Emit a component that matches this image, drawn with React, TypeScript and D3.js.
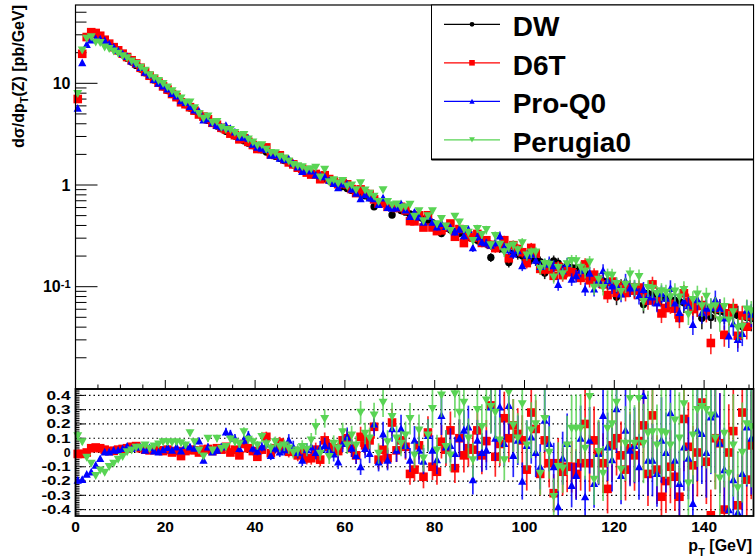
import React from 'react';
import * as d3 from 'd3';

// ---------- DATA ----------
const seriesNames = ['DW', 'D6T', 'Pro-Q0', 'Perugia0'];
const seriesColors = ['#000000', '#ff0000', '#0000ff', '#59d454'];

// DW spectrum, 1 GeV bins from 0 to 151 GeV  (pb/GeV)
const dwValues = [
  7.08, 19.7, 28.5, 30.9, 30.2, 28.5, 26.3, 24.3, 22.4, 20.7,
  19.1, 17.6, 16.2, 15.0, 13.8, 12.7, 11.7, 10.8, 10.0, 9.23,
  8.51, 7.85, 7.24, 6.68, 6.17, 5.71, 5.31, 4.94, 4.61, 4.32,
  4.05, 3.80, 3.58, 3.38, 3.20, 3.03, 2.87, 2.72, 2.58, 2.45,
  2.33, 2.22, 2.11, 2.01, 1.92, 1.83, 1.74, 1.66, 1.58, 1.51,
  1.44, 1.38, 1.32, 1.26, 1.20, 1.15, 1.10, 1.05, 1.01, 0.964,
  0.923, 0.885, 0.849, 0.815, 0.782, 0.750, 0.612, 0.690, 0.662, 0.635,
  0.507, 0.586, 0.562, 0.541, 0.519, 0.499, 0.479, 0.460, 0.442, 0.425,
  0.407, 0.333, 0.377, 0.362, 0.348, 0.335, 0.274, 0.310, 0.298, 0.286,
  0.275, 0.265, 0.194, 0.247, 0.239, 0.231, 0.173, 0.215, 0.208, 0.201,
  0.194, 0.188, 0.182, 0.176, 0.136, 0.165, 0.179, 0.170, 0.150, 0.159,
  0.154, 0.153, 0.132, 0.138, 0.125, 0.121, 0.117, 0.114, 0.111, 0.107,
  0.0791, 0.101, 0.0986, 0.0959, 0.0933, 0.0908, 0.0670, 0.0859, 0.0836, 0.0813,
  0.0791, 0.0771, 0.0752, 0.0733, 0.0714, 0.0697, 0.0679, 0.0662, 0.0646, 0.0489,
  0.0614, 0.0499, 0.0586, 0.0573, 0.0560, 0.0547, 0.0535, 0.0522, 0.0406, 0.0499,
  0.0488,
];

// (X - DW) / DW, as shown in the lower panel
const ratioD6T = [
  -0.01, -0.01, 0.0, 0.03, 0.035, 0.03, 0.02, 0.01, 0.012, 0.02,
  0.025, 0.03, 0.04, 0.045, 0.03, 0.02, 0.015, 0.02, 0.015, 0.01,
  0.02, 0.0, 0.01, -0.025, 0.01, 0.02, 0.015, 0.0, 0.02, 0.025,
  0.01, 0.03, 0.02, 0.04, 0.0, 0.02, -0.02, 0.06, 0.03, 0.01,
  -0.03, 0.02, 0.11, -0.005, 0.03, 0.07, 0.03, 0.005, 0.01, -0.02,
  0.0, -0.04, -0.04, 0.02, -0.05, 0.085, 0.04, 0.03, 0.01, 0.085,
  0.1, 0.03, -0.02, 0.11, 0.05, 0.085, 0.18, -0.05, 0.02, -0.04,
  0.21, 0.015, 0.085, 0.04, -0.15, -0.12, 0.05, -0.17, 0.14, -0.1,
  -0.135, 0.075, 0.02, 0.155, -0.11, 0.1, -0.02, 0.03, 0.02, 0.155,
  -0.02, 0.08, 0.33, -0.03, 0.06, 0.24, 0.1, 0.19, 0.13, 0.085,
  -0.12, 0.28, 0.165, -0.15, 0.085, -0.075, -0.285, -0.075, -0.135, -0.1,
  -0.1, -0.15, -0.075, 0.2, -0.075, 0.085, 0.0, -0.075, -0.255, 0.05,
  0.1, -0.02, -0.12, 0.03, -0.02, 0.08, 0.19, -0.15, 0.26, -0.12,
  -0.31, -0.2, -0.1, -0.17, -0.31, 0.235, 0.04, -0.09, 0.0, 0.35,
  -0.065, -0.44, 0.1, 0.065, -0.4, 0.0, 0.15, -0.37, 0.28, -0.19,
  0.05,
];

const ratioProQ0 = [
  -0.194, -0.189, -0.152, -0.136, -0.089, -0.042, 0.004, 0.004, 0.016, 0.016,
  0.028, 0.044, 0.028, 0.04, 0.04, 0.016, 0.035, 0.011, 0.004, 0.02,
  0.035, 0.016, 0.04, 0.012, 0.05, 0.04, 0.03, 0.081, -0.054, 0.04,
  0.005, 0.016, 0.04, 0.144, 0.13, 0.1, 0.028, 0.086, 0.12, 0.03,
  0.01, 0.04, 0.06, -0.02, 0.03, 0.005, 0.02, 0.086, 0.04, 0.0,
  -0.053, 0.02, 0.04, 0.0, 0.03, 0.05, 0.016, -0.01, -0.065, 0.063,
  0.11, 0.03, -0.02, -0.1, 0.028, -0.007, 0.2, -0.065, 0.13, -0.053,
  0.167, 0.016, 0.167, 0.05, -0.053, 0.086, 0.016, -0.06, 0.12, 0.016,
  -0.05, 0.26, 0.04, 0.05, -0.007, 0.1, 0.156, 0.18, -0.19, 0.086,
  0.0, 0.016, 0.32, 0.1, 0.32, 0.063, 0.33, -0.02, 0.086, -0.2,
  0.05, 0.11, 0.0, -0.1, 0.226, 0.063, -0.1, -0.38, -0.04, 0.063,
  -0.23, -0.16, 0.1, -0.31, 0.086, -0.216, -0.007, 0.26, 0.04, -0.05,
  0.307, -0.16, 0.156, 0.016, 0.05, -0.1, 0.4, -0.053, -0.053, -0.147,
  0.086, 0.0, 0.28, -0.053, -0.216, 0.04, -0.04, -0.356, 0.156, 0.133,
  0.0, 0.25, 0.27, 0.065, -0.12, -0.4, -0.19, -0.42, -0.147, 0.18,
  0.1,
];

const ratioPerugia0 = [
  0.116, 0.074, -0.035, -0.077, -0.163, -0.124, -0.14, -0.1, -0.077, -0.05,
  -0.03, 0.004, 0.016, 0.035, 0.035, 0.05, 0.028, 0.044, 0.058, 0.074,
  0.074, 0.07, 0.074, 0.067, 0.05, 0.137, 0.074, 0.016, -0.026, 0.098,
  0.016, 0.098, 0.028, 0.04, 0.093, 0.074, 0.06, 0.144, 0.09, 0.074,
  0.05, 0.11, 0.06, 0.03, 0.074, 0.04, 0.05, 0.03, 0.0, 0.016,
  0.04, 0.02, 0.086, 0.18, -0.007, 0.237, -0.03, 0.063, 0.03, 0.144,
  0.05, 0.12, 0.05, 0.28, 0.133, 0.1, 0.26, -0.007, 0.35, 0.074,
  0.25, 0.1, 0.063, 0.12, 0.237, -0.02, 0.156, -0.04, 0.12, 0.307,
  0.016, 0.4, 0.04, -0.02, 0.41, 0.28, 0.35, 0.1, -0.053, 0.3,
  0.18, 0.365, 0.32, 0.28, 0.086, -0.053, 0.42, 0.19, 0.1, 0.34,
  0.05, 0.156, 0.2, -0.147, 0.237, 0.0, -0.31, -0.1, -0.11, 0.05,
  0.167, 0.167, 0.167, 0.028, 0.39, -0.19, 0.005, -0.147, 0.167, 0.2,
  0.35, -0.12, 0.063, 0.377, 0.063, 0.377, 0.063, 0.133, 0.144, 0.05,
  0.144, 0.133, 0.05, 0.226, 0.1, 0.34, -0.216, 0.12, 0.3, 0.32,
  0.3, 0.26, 0.1, -0.18, 0.133, -0.147, 0.05, -0.25, 0.0, 0.2,
  0.18,
];

// relative statistical uncertainty of one histogram, per bin
const relErr = [
  0.02, 0.012, 0.01, 0.01, 0.01, 0.01, 0.01, 0.01, 0.01, 0.011,
  0.011, 0.011, 0.011, 0.011, 0.011, 0.012, 0.012, 0.012, 0.012, 0.012,
  0.012, 0.012, 0.013, 0.013, 0.014, 0.014, 0.015, 0.015, 0.016, 0.016,
  0.016, 0.017, 0.017, 0.018, 0.018, 0.019, 0.019, 0.02, 0.02, 0.021,
  0.021, 0.022, 0.023, 0.024, 0.025, 0.026, 0.027, 0.028, 0.029, 0.03,
  0.031, 0.032, 0.033, 0.034, 0.035, 0.036, 0.037, 0.038, 0.039, 0.04,
  0.041, 0.042, 0.044, 0.045, 0.047, 0.048, 0.05, 0.051, 0.053, 0.054,
  0.056, 0.057, 0.059, 0.061, 0.063, 0.065, 0.067, 0.069, 0.071, 0.073,
  0.075, 0.077, 0.079, 0.081, 0.083, 0.085, 0.087, 0.089, 0.091, 0.093,
  0.095, 0.097, 0.1, 0.102, 0.104, 0.106, 0.108, 0.11, 0.113, 0.115,
  0.118, 0.12, 0.122, 0.125, 0.127, 0.13, 0.132, 0.135, 0.137, 0.14,
  0.142, 0.145, 0.147, 0.15, 0.152, 0.155, 0.158, 0.16, 0.163, 0.166,
  0.168, 0.171, 0.174, 0.176, 0.179, 0.182, 0.185, 0.187, 0.19, 0.193,
  0.196, 0.198, 0.201, 0.204, 0.207, 0.21, 0.212, 0.215, 0.218, 0.221,
  0.224, 0.227, 0.23, 0.233, 0.236, 0.239, 0.242, 0.245, 0.248, 0.251,
  0.254,
];

const xTickValues = [0, 20, 40, 60, 80, 100, 120, 140];
const upperMajorTicks = [0.1, 1, 10];
const upperMinorTicks = [0.02, 0.03, 0.04, 0.05, 0.06, 0.07, 0.08, 0.09,
  0.2, 0.3, 0.4, 0.5, 0.6, 0.7, 0.8, 0.9, 2, 3, 4, 5, 6, 7, 8, 9, 20, 30, 40, 50];
const ratioTickValues = [0.4, 0.3, 0.2, 0.1, 0, -0.1, -0.2, -0.3, -0.4];
const ratioTickLabels = ['0.4', '0.3', '0.2', '0.1', '0', '-0.1', '-0.2', '-0.3', '-0.4'];

// ---------- LAYOUT ----------
const FONT = "'Liberation Sans', Arial, Helvetica, sans-serif";
const FL = 75.5, FR = 753.5;
const UT = 5, UB = 389, LT = 389, LB = 516;

function Marker({ kind, x, y, color, s = 1 }: { kind: number; x: number; y: number; color: string; s?: number }) {
  if (kind === 0) return <circle cx={x} cy={y} r={3.7 * s} fill={color} />;
  if (kind === 1) return <rect x={x - 4.3 * s} y={y - 4.3 * s} width={8.6 * s} height={8.6 * s} fill={color} />;
  if (kind === 2)
    return <path d={`M${x},${y - 4.1 * s}L${x + 4.1 * s},${y + 3.6 * s}L${x - 4.1 * s},${y + 3.6 * s}Z`} fill={color} />;
  return <path d={`M${x},${y + 4.2 * s}L${x + 4.5 * s},${y - 3.8 * s}L${x - 4.5 * s},${y - 3.8 * s}Z`} fill={color} />;
}

export default function App() {
  const x = d3.scaleLinear().domain([0, 151]).range([FL, FR]);
  const yUp = d3.scaleLog().domain([0.00986, 58.9]).range([UB, UT]);
  const yLo = d3.scaleLinear().domain([-0.445, 0.445]).range([LB, LT]);

  const ratioSeries = [null, ratioD6T, ratioProQ0, ratioPerugia0];
  const upperSeries = [
    dwValues,
    ...[ratioD6T, ratioProQ0, ratioPerugia0].map((r) => dwValues.map((v, i) => v * (1 + r[i]))),
  ];

  const xMinor = d3.range(0, 151, 5);
  const loMinor = d3.range(-35, 36).map((k) => k * 0.0125);

  return (
    <svg
      width={755}
      height={558}
      style={{ position: 'absolute', left: 0, top: 0, background: '#fff' }}
      fontFamily={FONT}
      fontWeight="bold"
    >
      <rect x={0} y={0} width={755} height={558} fill="#fff" />
      <defs>
        <clipPath id="clipUp">
          <rect x={70} y={UT} width={FR - 70} height={UB - UT} />
        </clipPath>
        <clipPath id="clipLo">
          <rect x={70} y={LT} width={FR - 70} height={LB - LT} />
        </clipPath>
      </defs>

      {/* ---------- upper panel axes ---------- */}
      <g stroke="#000" strokeWidth={1}>
        {upperMinorTicks.map((v) => (
          <line key={'um' + v} x1={FL} x2={FL + 11} y1={yUp(v)} y2={yUp(v)} />
        ))}
        {upperMajorTicks.map((v) => (
          <line key={'uM' + v} x1={FL} x2={FL + 22} y1={yUp(v)} y2={yUp(v)} />
        ))}
        {xMinor.map((v) => (
          <line key={'xm' + v} x1={x(v)} x2={x(v)} y1={UB} y2={UB - (v % 20 === 0 ? 9 : 4.5)} />
        ))}
      </g>
      <g fontSize={16} textAnchor="end">
        <text x={70.5} y={yUp(10)} dy="0.36em">10</text>
        <text x={70.5} y={yUp(1)} dy="0.36em">1</text>
        <text x={70.5} y={yUp(0.1)} dy="0.36em">
          10<tspan dy={-4} fontSize={11}>-1</tspan>
        </text>
      </g>
      <text transform="translate(24,5) rotate(-90)" textAnchor="end" fontSize={16}>
        dσ/dp<tspan dy={4} fontSize={11}>T</tspan>
        <tspan dy={-4}>(Z) [pb/GeV]</tspan>
      </text>

      {/* ---------- lower panel grid & axes ---------- */}
      <g stroke="#000" strokeWidth={1.2} strokeDasharray="1.5 3">
        {ratioTickValues.map((v) => (
          <line key={'g' + v} x1={FL} x2={FR} y1={yLo(v)} y2={yLo(v)} />
        ))}
      </g>
      <g stroke="#000" strokeWidth={1}>
        {loMinor.map((v, k) => (
          <line
            key={'lt' + k}
            x1={FL}
            x2={FL + (Math.abs(Math.round(v * 1000)) % 100 === 0 ? 9 : 4)}
            y1={yLo(v)}
            y2={yLo(v)}
          />
        ))}
      </g>
      <g fontSize={12.3} textAnchor="end">
        {ratioTickValues.map((v, i) => {
          const lab = ratioTickLabels[i];
          const tl = lab.length === 1 ? undefined : lab.startsWith('-') ? 29 : 24;
          return (
            <text key={'rl' + v} x={70.5} y={yLo(v)} dy="0.36em" textLength={tl} lengthAdjust="spacingAndGlyphs">
              {lab}
            </text>
          );
        })}
      </g>
      <g fontSize={15.5} textAnchor="middle">
        {xTickValues.map((v) => (
          <text key={'xl' + v} x={x(v)} y={531.5}>
            {v}
          </text>
        ))}
      </g>
      <text x={752} y={551} textAnchor="end" fontSize={16}>
        p<tspan dy={4.5} fontSize={11}>T</tspan>
        <tspan dy={-4.5}> [GeV]</tspan>
      </text>

      {/* ---------- upper panel data ---------- */}
      <g clipPath="url(#clipUp)">
        {upperSeries.map((vals, s) => (
          <g key={'us' + s}>
            <g stroke={seriesColors[s]} strokeWidth={1.6} opacity={0.85}>
              {vals.map((v, i) => {
                const e = v * relErr[i];
                return (
                  <line key={i} x1={x(i + 0.5)} x2={x(i + 0.5)} y1={yUp(v + e)} y2={yUp(Math.max(v - e, 1e-4))} />
                );
              })}
            </g>
            {vals.map((v, i) => (
              <Marker key={i} kind={s} x={x(i + 0.5)} y={yUp(v)} color={seriesColors[s]} />
            ))}
          </g>
        ))}
      </g>

      {/* ---------- lower panel data ---------- */}
      <g clipPath="url(#clipLo)">
        {ratioSeries.map((r, s) =>
          r ? (
            <g key={'ls' + s}>
              <g stroke={seriesColors[s]} strokeWidth={1.7} opacity={0.85}>
                {r.map((v, i) => {
                  const e = Math.SQRT2 * relErr[i] * (1 + v);
                  return <line key={i} x1={x(i + 0.5)} x2={x(i + 0.5)} y1={yLo(v + e)} y2={yLo(v - e)} />;
                })}
              </g>
              {r.map((v, i) =>
                Math.abs(v) <= 0.445 ? (
                  <Marker key={i} kind={s} x={x(i + 0.5)} y={yLo(v)} color={seriesColors[s]} />
                ) : null
              )}
            </g>
          ) : null
        )}
      </g>

      {/* ---------- frames ---------- */}
      <g fill="none" stroke="#000">
        <rect x={FL} y={UT} width={FR - FL} height={UB - UT} strokeWidth={1.2} />
        <rect x={FL} y={LT} width={FR - FL} height={LB - LT} strokeWidth={1.8} />
      </g>

      {/* ---------- legend ---------- */}
      <g>
        <rect x={431.5} y={5} width={322} height={154.5} fill="#fff" stroke="#000" strokeWidth={1} />
        <line x1={431.5} x2={753.5} y1={159.5} y2={159.5} stroke="#000" strokeWidth={2} />
        {seriesNames.map((name, s) => {
          const ly = 24.3 + s * 38.5;
          return (
            <g key={'lg' + s}>
              <line x1={444} x2={500} y1={ly} y2={ly} stroke={seriesColors[s]} strokeWidth={1.3} />
              <Marker kind={s} x={472} y={ly} color={seriesColors[s]} s={0.65} />
              <text x={512.7} y={ly + 11.7} fontSize={28}>
                {name}
              </text>
            </g>
          );
        })}
      </g>
    </svg>
  );
}
